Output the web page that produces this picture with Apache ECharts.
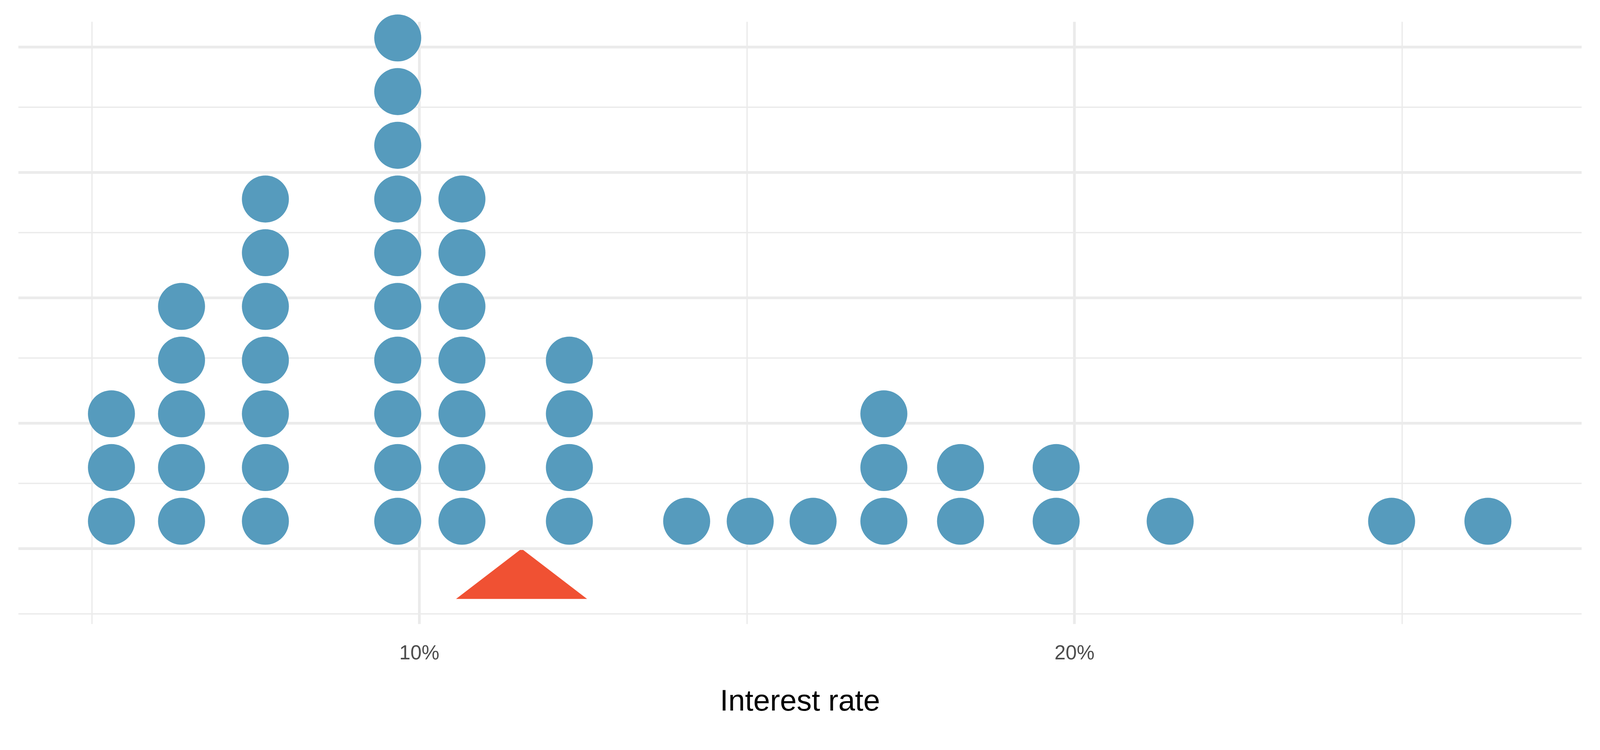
<!DOCTYPE html>
<html><head><meta charset="utf-8">
<script src="https://cdn.jsdelivr.net/npm/echarts@6/dist/echarts.min.js"></script>
<style>html,body{margin:0;padding:0;background:#fff;overflow:hidden}#c{width:100vw;height:100vh}</style></head>
<body><div id="c"></div>
<script>
const rates = [5.30, 6.37, 7.65, 9.67, 10.65, 12.29, 14.08, 15.05, 16.01, 17.09, 18.26, 19.72, 21.46, 24.84, 26.31];
const counts = [3, 5, 7, 10, 7, 4, 1, 1, 1, 3, 2, 2, 1, 1, 1];
const meanRate = 11.56;
const xTickLabels = [10, 20];
const dotBase = 0.0548, dotStep = 0.107;

const dots = [];
rates.forEach((r, i) => { for (let k = 0; k < counts[i]; k++) dots.push([r, dotBase + k * dotStep]); });

const el = document.getElementById('c');
const W = el.clientWidth, H = el.clientHeight;
const s = W / 4800;
const chart = echarts.init(el);
const thin = {color: '#EBEBEB', width: 4 * s, type: 'solid'};
const thick = {color: '#EBEBEB', width: 8 * s, type: 'solid'};
const vLines = [5, 15, 25].map(v => ({xAxis: v, lineStyle: thin})).concat([10, 20].map(v => ({xAxis: v, lineStyle: thick})));
const hLines = [-0.125, 0.125, 0.375, 0.625, 0.875].map(v => ({yAxis: v, lineStyle: thin})).concat([0, 0.25, 0.5, 0.75, 1].map(v => ({yAxis: v, lineStyle: thick})));

chart.setOption({
  animation: false,
  grid: {left: '1.15%', right: '1.15%', top: '2.9%', bottom: '16.8%'},
  xAxis: {type: 'value', min: 3.88, max: 27.74,
    axisLine: {show: false}, axisTick: {show: false}, splitLine: {show: false},
    axisLabel: {customValues: xTickLabels, formatter: v => v + '%', color: '#4D4D4D', fontSize: 60 * s, fontFamily: 'Liberation Sans', margin: 60 * s},
    name: 'Interest rate', nameLocation: 'middle', nameGap: 190 * s,
    nameTextStyle: {color: '#000', fontSize: 90 * s, fontFamily: 'Liberation Sans'}},
  yAxis: {type: 'value', min: -0.15, max: 1.05, show: false, splitLine: {show: false}},
  series: [
    {type: 'line', data: [], silent: true,
     markLine: {silent: true, symbol: 'none', label: {show: false}, data: vLines.concat(hLines)}},
    {type: 'custom', silent: true, data: [[meanRate]],
     renderItem: (params, api) => {
       const a = api.coord([meanRate, 0]);
       const l = api.coord([meanRate - 1, -0.1]);
       const r = api.coord([meanRate + 1, -0.1]);
       return {type: 'polygon', shape: {points: [a, l, r]}, style: {fill: '#F05133'}};
     }},
    {type: 'scatter', data: dots, symbolSize: 141 * s, itemStyle: {color: '#569BBD', opacity: 1}, z: 5}
  ]
});
</script></body></html>
